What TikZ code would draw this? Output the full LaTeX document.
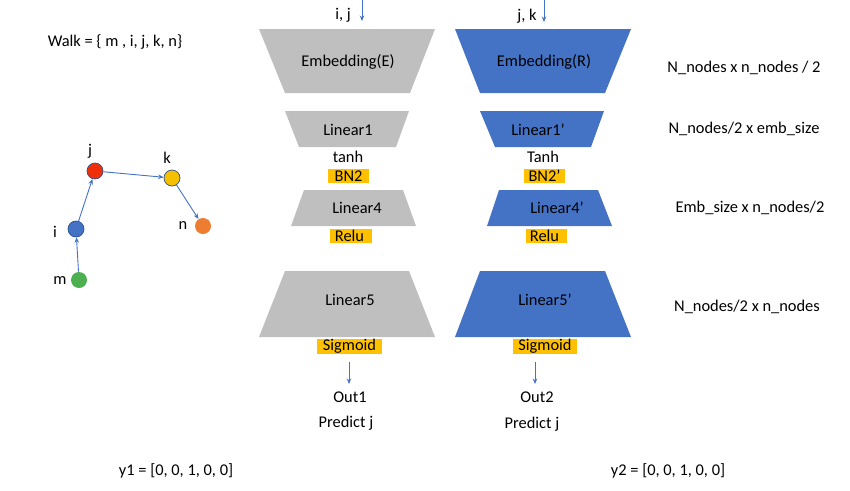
\documentclass[tikz,border=0pt]{standalone}
\usepackage{fontspec}
\setmainfont{Carlito}
\usetikzlibrary{arrows.meta}
\definecolor{grayfill}{HTML}{BFBFBF}
\definecolor{bluefill}{HTML}{4472C4}
\definecolor{hl}{HTML}{FFC000}
\definecolor{nodeedge}{HTML}{2F528F}
\definecolor{redn}{HTML}{EE2F0A}
\definecolor{yelln}{HTML}{F5C000}
\definecolor{orangen}{HTML}{ED7D31}
\definecolor{greenn}{HTML}{4CAF50}
\begin{document}
\begin{tikzpicture}[x=1pt,y=-1pt,
  every node/.style={font=\fontsize{16.4}{19}\selectfont, inner sep=0pt},
  hlbox/.style={fill=hl, minimum height=14.5},
  arr/.style={draw=bluefill, line width=0.9, -{Stealth[length=5.5pt,width=4.5pt]}},
  gshape/.style={fill=grayfill},
  bshape/.style={fill=bluefill},
  gnode/.style={circle, minimum size=16, line width=0.7},
  ]
\useasboundingbox (0,0) rectangle (850,490);

% ---- left encoder (gray) ----
\fill[gshape] (259,29) -- (435,29) -- (410,93) -- (285,93) -- cycle;
\fill[gshape] (285,111) -- (409,111) -- (396,147) -- (299,147) -- cycle;
\fill[gshape] (304,190) -- (403,190) -- (416,226) -- (291,226) -- cycle;
\fill[gshape] (285,271) -- (409,271) -- (435,337) -- (259,337) -- cycle;
% ---- right encoder (blue) ----
\fill[bshape] (455,29) -- (631,29) -- (605,93) -- (480,93) -- cycle;
\fill[bshape] (480,111) -- (604,111) -- (591,147) -- (495,147) -- cycle;
\fill[bshape] (499,190) -- (598,190) -- (612,226) -- (487,226) -- cycle;
\fill[bshape] (480,271) -- (605,271) -- (631,337) -- (455,337) -- cycle;

% ---- texts in shapes ----
\node (embE) at (348,62) {Embedding(E)};
\node (embR) at (544,62) {Embedding(R)};
\node (lin1) at (348,130) {Linear1};
\node (lin1p) at (538,130) {Linear1’};
\node (lin4) at (357,208) {Linear4};
\node (lin4p) at (557,208) {Linear4’};
\node (lin5) at (350,300) {Linear5};
\node (lin5p) at (545,300) {Linear5’};

% ---- activations ----
\node (tanhL) at (348,157) {tanh};
\node (tanhR) at (543,157) {Tanh};
\node[hlbox, minimum width=41] (bnL) at (348.5,176) {BN2};
\node[hlbox, minimum width=41] (bnR) at (544.5,176) {BN2’};
\node[hlbox, minimum width=42] (reluL) at (351,236) {\hspace*{-3pt}Relu};
\node[hlbox, minimum width=41] (reluR) at (546.5,236) {\hspace*{-4pt}Relu};
\node[hlbox, minimum width=65] (sigL) at (349.5,346.5) {Sigmoid};
\node[hlbox, minimum width=64] (sigR) at (545,346.5) {Sigmoid};

% ---- inputs ----
\node (inLtxt) at (343,15) {i, j};
\node (inRtxt) at (527,16) {j, k};
\coordinate (inLs) at (362,0);
\coordinate (inLe) at (362,21);
\coordinate (inRs) at (544,0);
\coordinate (inRe) at (544,22);
\draw[arr] (inLs) -- (inLe);
\draw[arr] (inRs) -- (inRe);

% ---- outputs ----
\coordinate (outLs) at (349,362);
\coordinate (outLe) at (349,384);
\coordinate (outRs) at (535,362);
\coordinate (outRe) at (535,384);
\draw[arr] (outLs) -- (outLe);
\draw[arr] (outRs) -- (outRe);
\node (out1) at (350,397) {Out1};
\node (out2) at (537,397) {Out2};
\node (predL) at (346,423) {Predict j};
\node (predR) at (532,424) {Predict j};

% ---- right-hand sizes ----
\node (s1) at (744,68) {N\_nodes x n\_nodes / 2};
\node (s2) at (744,129) {N\_nodes/2 x emb\_size};
\node (s3) at (750,208) {Emb\_size x n\_nodes/2};
\node (s4) at (747,307) {N\_nodes/2 x n\_nodes};

% ---- bottom ----
\node (y1) at (176,471) {y1 = [0, 0, 1, 0, 0]};
\node (y2) at (668,471) {y2 = [0, 0, 1, 0, 0]};

% ---- walk graph ----
\node (walk) at (115,42) {Walk = \{ m , i, j, k, n\}};
\node[gnode, fill=redn, draw=nodeedge] (j) at (95,171) {};
\node[gnode, fill=yelln, draw=nodeedge] (k) at (172,178) {};
\node[gnode, fill=orangen] (n) at (203,226) {};
\node[gnode, fill=bluefill, draw=nodeedge] (i) at (76,229) {};
\node[gnode, fill=greenn] (m) at (79,280) {};
\node (jl) at (90,151) {j};
\node (kl) at (167,158) {k};
\node (il) at (55,232) {i};
\node (nl) at (183,226) {n};
\node (ml) at (60,281) {m};
\draw[arr] (m) -- (i);
\draw[arr] (i) -- (j);
\draw[arr] (j) -- (k);
\draw[arr] (k) -- (n);
\end{tikzpicture}
\end{document}
